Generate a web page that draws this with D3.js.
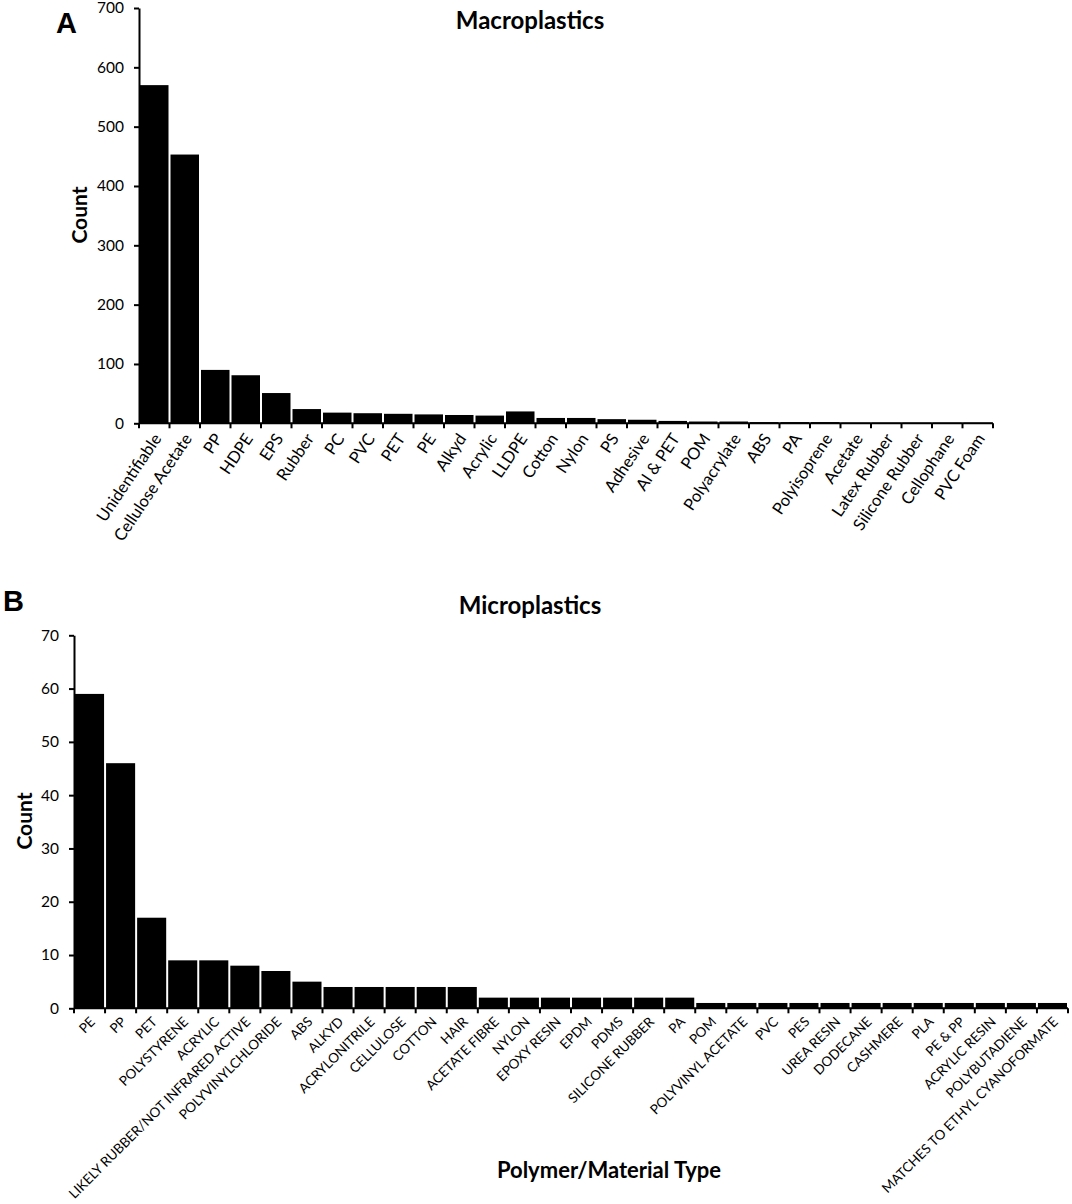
<!DOCTYPE html>
<html>
<head>
<meta charset="utf-8">
<script src="https://cdn.jsdelivr.net/npm/d3@7"></script>
<style>
  html,body{margin:0;padding:0;background:#fff;}
  svg{display:block;}
  text{font-family:Lato,"Open Sans",sans-serif;fill:#000;}
  .panel-letter{font-family:"Liberation Sans",Arial,sans-serif;font-weight:bold;}
  .axis path,.axis line{stroke:#000;stroke-width:2;}
</style>
</head>
<body>
<svg id="chart" width="1072" height="1204"></svg>
<script>
// ── DATA ─────────────────────────────────────────────────────────────
var macroCategories=["Unidentifiable","Cellulose Acetate","PP","HDPE","EPS","Rubber","PC","PVC","PET","PE",
  "Alkyd","Acrylic","LLDPE","Cotton","Nylon","PS","Adhesive","Al & PET","POM","Polyacrylate",
  "ABS","PA","Polyisoprene","Acetate","Latex Rubber","Silicone Rubber","Cellophane","PVC Foam"];
var macroCounts=[570,453,90,81,51,24,18,17,16,15,14,13,20,9,9,7,6,4,3,3,2,2,2,1,1,1,1,1];
var macroTicks=[0,100,200,300,400,500,600,700];

var microCategories=["PE","PP","PET","POLYSTYRENE","ACRYLIC","LIKELY RUBBER/NOT INFRARED ACTIVE",
  "POLYVINYLCHLORIDE","ABS","ALKYD","ACRYLONITRILE","CELLULOSE","COTTON","HAIR","ACETATE FIBRE",
  "NYLON","EPOXY RESIN","EPDM","PDMS","SILICONE RUBBER","PA","POM","POLYVINYL ACETATE","PVC","PES",
  "UREA RESIN","DODECANE","CASHMERE","PLA","PE & PP","ACRYLIC RESIN","POLYBUTADIENE",
  "MATCHES TO ETHYL CYANOFORMATE"];
var microCounts=[59,46,17,9,9,8,7,5,4,4,4,4,4,2,2,2,2,2,2,2,1,1,1,1,1,1,1,1,1,1,1,1];
var microTicks=[0,10,20,30,40,50,60,70];

var svg=d3.select("#chart");

// Un panneau = barres noires façon Excel, graduations X aux frontières des bandes
function drawPanel(o){
  var g=svg.append("g");
  var x=d3.scaleBand().domain(o.cats).range([o.left,o.right]).padding(0);
  var y=d3.scaleLinear().domain([0,d3.max(o.ticks)]).range([o.bottom,o.top]);

  g.selectAll("rect.bar")
    .data(o.cats)
    .enter().append("rect")
    .attr("class","bar")
    .attr("x",function(c){return x(c)+1;})
    .attr("width",x.bandwidth()-2)
    .attr("y",function(c,i){return y(o.values[i]);})
    .attr("height",function(c,i){return y(0)-y(o.values[i]);})
    .attr("fill","#000");

  // axe Y
  var ya=g.append("g").attr("class","axis")
    .attr("transform","translate("+o.left+",0)")
    .call(d3.axisLeft(y).tickValues(o.ticks).tickSize(5).tickSizeOuter(0).tickPadding(10));
  ya.selectAll("text").style("font-size",o.yFont+"px").style("font-family","Lato,'Open Sans',sans-serif");

  // axe X : ligne + graduations aux frontières
  var bounds=o.cats.map(function(c){return x(c);}).concat([x.range()[1]]);
  var xa=g.append("g").attr("class","axis");
  xa.append("line").attr("x1",x.range()[0]).attr("x2",x.range()[1])
    .attr("y1",y(0)).attr("y2",y(0));
  xa.selectAll("line.tk").data(bounds).enter().append("line").attr("class","tk")
    .attr("x1",function(d){return d;}).attr("x2",function(d){return d;})
    .attr("y1",y(0)).attr("y2",y(0)+5);

  // étiquettes inclinées
  g.selectAll("text.xl").data(o.cats).enter().append("text").attr("class","xl")
    .attr("transform",function(c){
      return "translate("+(x(c)+x.bandwidth()/2+o.lblDx)+","+(y(0)+o.lblDy)+") rotate("+o.angle+")";
    })
    .attr("text-anchor","end")
    .attr("dy","0.35em")
    .style("font-size",o.xFont+"px")
    .text(function(c){return c;});

  // titre Count
  g.append("text")
    .attr("transform","translate("+o.countX+","+o.countY+") rotate(-90)")
    .attr("text-anchor","middle")
    .style("font-size","21px").style("font-weight","bold")
    .text("Count");

  g.append("text").attr("x",o.titleX).attr("y",o.titleY)
    .attr("text-anchor","middle")
    .style("font-size","24px").style("font-weight","bold")
    .text(o.title);

  g.append("text").attr("class","panel-letter").attr("x",o.letterX).attr("y",o.letterY)
    .style("font-size","29px").text(o.letter);
}

drawPanel({
  cats:macroCategories,values:macroCounts,ticks:macroTicks,
  left:139,right:993,top:8,bottom:423.3,
  yFont:15.5,xFont:16.5,angle:-56,lblDx:3,lblDy:12,
  countX:87,countY:215,title:"Macroplastics",titleX:530,titleY:29,
  letter:"A",letterX:56,letterY:33
});

drawPanel({
  cats:microCategories,values:microCounts,ticks:microTicks,
  left:74,right:1068,top:635.3,bottom:1008.3,
  yFont:15.5,xFont:13.5,angle:-45,lblDx:3,lblDy:11,
  countX:32,countY:821,title:"Microplastics",titleX:530,titleY:614,
  letter:"B",letterX:3,letterY:611
});

svg.append("text").attr("x",609).attr("y",1178)
  .attr("text-anchor","middle")
  .style("font-size","22px").style("font-weight","bold")
  .text("Polymer/Material Type");
</script>
</body>
</html>
